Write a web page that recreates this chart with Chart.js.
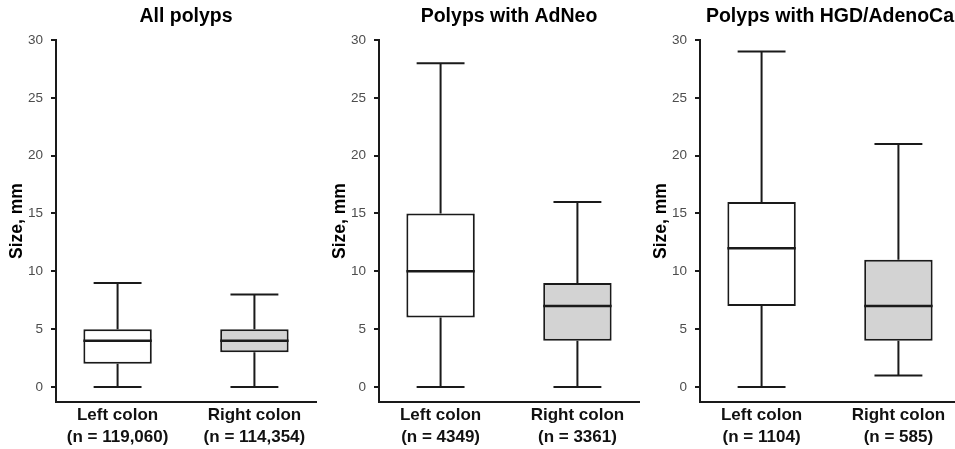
<!DOCTYPE html>
<html>
<head>
<meta charset="utf-8">
<script src="https://cdn.jsdelivr.net/npm/chart.js@4/dist/chart.umd.min.js"></script>
<style>
  html, body { margin: 0; padding: 0; background: #fff; }
  #wrap { position: relative; width: 955px; height: 449px; overflow: hidden; }
  .panel { position: absolute; top: 0; }
</style>
</head>
<body>
<div id="wrap">
  <div class="panel" style="left:0px"><canvas id="chart0" width="318" height="449"></canvas></div>
  <div class="panel" style="left:323px"><canvas id="chart1" width="318" height="449"></canvas></div>
  <div class="panel" style="left:644px"><canvas id="chart2" width="318" height="449"></canvas></div>
</div>
<script>
// Datos de los paneles (tamaño del pólipo en mm)
const panelTitles = ["All polyps", "Polyps with AdNeo", "Polyps with HGD/AdenoCa"];
const categories = ["Left colon", "Right colon"];
const sampleSizes = [
    ["119,060", "114,354"],
    ["4349", "3361"],
    ["1104", "585"],
];
const whiskerLow = [[0, 0], [0, 0], [0, 1]];
const quartile1 = [[2, 3], [6, 4], [7, 4]];
const medians = [[4, 4], [10, 7], [12, 7]];
const quartile3 = [[5, 5], [15, 9], [16, 11]];
const whiskerHigh = [[9, 8], [28, 16], [29, 21]];
const yTicks = [0, 5, 10, 15, 20, 25, 30];
const boxColors = ["#ffffff", "#d3d3d3"];

const lineColor = "#1a1a1a";

// Bigotes y mediana encima de las barras flotantes
const boxWhiskerPlugin = {
    id: "boxWhiskers",
    afterDatasetsDraw(chart, args, opts) {
        const p = opts.panel;
        const ctx = chart.ctx;
        const yScale = chart.scales.y;
        const meta = chart.getDatasetMeta(0);
        ctx.save();
        ctx.strokeStyle = lineColor;
        ctx.lineCap = "butt";
        meta.data.forEach(function (bar, i) {
            const x = bar.x;
            const w = bar.width;
            const yLo = yScale.getPixelForValue(whiskerLow[p][i]);
            const yHi = yScale.getPixelForValue(whiskerHigh[p][i]);
            const yQ1 = yScale.getPixelForValue(quartile1[p][i]);
            const yQ3 = yScale.getPixelForValue(quartile3[p][i]);
            const yMed = yScale.getPixelForValue(medians[p][i]);
            const cap = w * 0.35;

            ctx.lineWidth = 2;
            ctx.beginPath();
            ctx.moveTo(x, yQ3);
            ctx.lineTo(x, yHi);
            ctx.moveTo(x - cap, yHi);
            ctx.lineTo(x + cap, yHi);
            ctx.moveTo(x, yQ1);
            ctx.lineTo(x, yLo);
            ctx.moveTo(x - cap, yLo);
            ctx.lineTo(x + cap, yLo);
            ctx.stroke();

            ctx.lineWidth = 2.5;
            ctx.beginPath();
            ctx.moveTo(x - w / 2, yMed);
            ctx.lineTo(x + w / 2, yMed);
            ctx.stroke();
        });
        ctx.restore();
    },
};

// Título centrado sobre el área del gráfico (como ggplot)
const panelTitlePlugin = {
    id: "panelTitle",
    afterDraw(chart, args, opts) {
        const ctx = chart.ctx;
        const area = chart.chartArea;
        ctx.save();
        ctx.font = "bold 19.5px 'Liberation Sans', Arial, sans-serif";
        ctx.fillStyle = "#000";
        ctx.textAlign = "center";
        ctx.textBaseline = "middle";
        ctx.fillText(opts.text, (area.left + area.right) / 2, 17);
        ctx.restore();
    },
};

function buildPanel(p) {
    const ctx = document.getElementById("chart" + p).getContext("2d");
    const points = categories.map(function (c, i) {
        return { x: i + 1, y: [quartile1[p][i], quartile3[p][i]] };
    });
    return new Chart(ctx, {
        type: "bar",
        data: {
            datasets: [
                {
                    data: points,
                    backgroundColor: boxColors,
                    borderColor: lineColor,
                    borderWidth: 2,
                    borderSkipped: false,
                    barPercentage: 0.5,
                    categoryPercentage: 1,
                },
            ],
        },
        options: {
            responsive: false,
            animation: false,
            layout: { padding: { top: 40, right: 2, bottom: 0, left: 0 } },
            plugins: {
                legend: { display: false },
                tooltip: { enabled: false },
                boxWhiskers: { panel: p },
                panelTitle: { text: panelTitles[p] },
            },
            scales: {
                x: {
                    type: "linear",
                    offset: false,
                    min: 0.55,
                    max: 2.45,
                    afterBuildTicks: function (scale) {
                        scale.ticks = categories.map(function (c, i) {
                            return { value: i + 1 };
                        });
                    },
                    afterFit: function (scale) {
                        scale.height = 47;
                    },
                    grid: { display: false, drawTicks: false },
                    border: { display: true, color: lineColor, width: 2 },
                    ticks: {
                        autoSkip: false,
                        maxRotation: 0,
                        padding: 3,
                        color: "#111",
                        font: { family: "'Liberation Sans', Arial, sans-serif", size: 17, weight: "bold", lineHeight: 1.25 },
                        callback: function (v) {
                            const i = v - 1;
                            return [categories[i], "(n = " + sampleSizes[p][i] + ")"];
                        },
                    },
                },
                y: {
                    min: -1.3,
                    max: 30,
                    afterBuildTicks: function (scale) {
                        scale.ticks = yTicks.map(function (v) {
                            return { value: v };
                        });
                    },
                    afterFit: function (scale) {
                        scale.width = 56;
                    },
                    grid: {
                        drawOnChartArea: false,
                        drawTicks: true,
                        tickLength: 5,
                        color: lineColor,
                        lineWidth: 2,
                    },
                    border: { display: true, color: lineColor, width: 2 },
                    ticks: {
                        padding: 8,
                        color: "#4d4d4d",
                        font: { family: "'Liberation Sans', Arial, sans-serif", size: 13.5 },
                    },
                    title: {
                        display: true,
                        text: "Size, mm",
                        color: "#000",
                        padding: { top: 7, bottom: 0 },
                        font: { family: "'Liberation Sans', Arial, sans-serif", size: 17.5, weight: "bold" },
                    },
                },
            },
        },
        plugins: [boxWhiskerPlugin, panelTitlePlugin],
    });
}

panelTitles.forEach(function (t, p) {
    buildPanel(p);
});
</script>
</body>
</html>
